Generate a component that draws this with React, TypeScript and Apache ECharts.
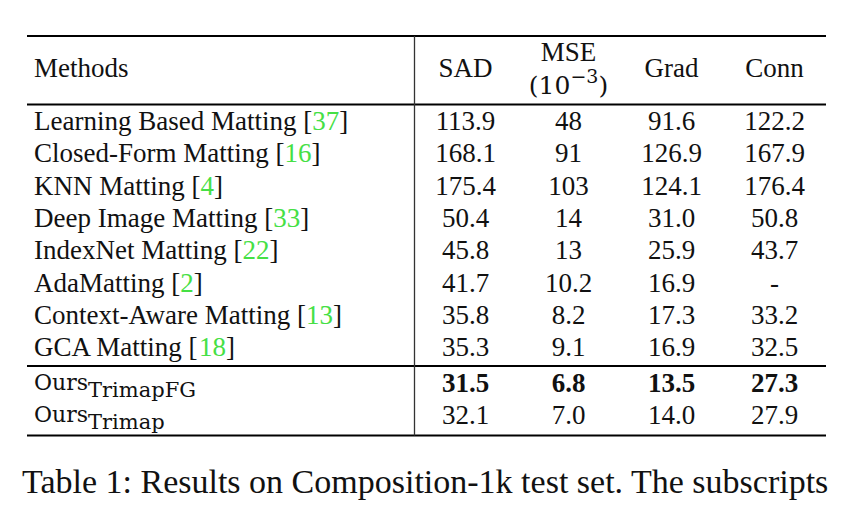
import React, { useEffect, useRef } from "react";
import * as echarts from "echarts";

const columns = ["SAD", "MSE", "Grad", "Conn"];
const headerMethods = "Methods";
const mseUnitBase = "(10";
const mseUnitSup = "−3";
const mseUnitEnd = ")";

const methods = [
  "Learning Based Matting",
  "Closed-Form Matting",
  "KNN Matting",
  "Deep Image Matting",
  "IndexNet Matting",
  "AdaMatting",
  "Context-Aware Matting",
  "GCA Matting",
];
const refs = ["37", "16", "4", "33", "22", "2", "13", "18"];
const sad = ["113.9", "168.1", "175.4", "50.4", "45.8", "41.7", "35.8", "35.3"];
const mse = ["48", "91", "103", "14", "13", "10.2", "8.2", "9.1"];
const grad = ["91.6", "126.9", "124.1", "31.0", "25.9", "16.9", "17.3", "16.9"];
const conn = ["122.2", "167.9", "176.4", "50.8", "43.7", "-", "33.2", "32.5"];

const oursBase = ["Ours", "Ours"];
const oursSub = ["TrimapFG", "Trimap"];
const oursSad = ["31.5", "32.1"];
const oursMse = ["6.8", "7.0"];
const oursGrad = ["13.5", "14.0"];
const oursConn = ["27.3", "27.9"];
const oursBold = [true, false];

const caption = "Table 1: Results on Composition-1k test set. The subscripts";

const SERIF = "'Liberation Serif', 'Times New Roman', serif";
const CM = "'DejaVu Serif', serif";
const GREEN = "#45e045";
const INK = "#111111";

function measure(text: string, font: string): number {
  const ctx = document.createElement("canvas").getContext("2d");
  if (!ctx) return text.length * 10;
  ctx.font = font;
  return ctx.measureText(text).width;
}

export default function App() {
  const ref = useRef<HTMLDivElement>(null);

  useEffect(() => {
    if (!ref.current) return;
    const chart = echarts.init(ref.current, null, { renderer: "svg" });

    const bodyCols = [sad, mse, grad, conn];
    const oursCols = [oursSad, oursMse, oursGrad, oursConn];
    const methodOffset = 380;
    const fs = 27;

    const gridBase = { left: 414, right: 26 };
    const grids = [
      { ...gridBase, top: 34, height: 68 },
      { ...gridBase, top: 105, height: 258.4 },
      { ...gridBase, top: 367, height: 64 },
    ];
    const xAxes = grids.map((_, g) => ({
      type: "category",
      gridIndex: g,
      data: columns,
      show: false,
    }));
    const yAxes = [
      { type: "category", gridIndex: 0, data: ["header"], show: false, inverse: true },
      { type: "category", gridIndex: 1, data: methods, show: false, inverse: true },
      { type: "category", gridIndex: 2, data: oursSub, show: false, inverse: true },
    ];

    const plain = (x: number, y: number, text: string, align: string, extra: any = {}) => ({
      type: "text",
      style: {
        x,
        y,
        text,
        align,
        verticalAlign: "middle",
        fill: INK,
        fontSize: fs,
        fontFamily: SERIF,
        ...extra,
      },
    });

    const headerSeries = {
      type: "custom",
      xAxisIndex: 0,
      yAxisIndex: 0,
      data: [[0, 0]],
      renderItem: (params: any, api: any) => {
        const cs = params.coordSys;
        const children: any[] = [];
        const yc = api.coord([0, 0])[1];
        children.push(plain(cs.x - methodOffset, yc, headerMethods, "left"));
        columns.forEach((col, c) => {
          const [x, y] = api.coord([c, 0]);
          if (c === 1) {
            children.push(plain(x, y - 16, col, "center"));
            const f1 = `25px ${CM}`;
            const f2 = `19px ${CM}`;
            const w1 = measure(mseUnitBase, f1);
            const w2 = measure(mseUnitSup, f2);
            const w3 = measure(mseUnitEnd, f1);
            const sx = x - (w1 + w2 + w3) / 2;
            const yy = y + 17;
            const big = { fontSize: 25, fontFamily: CM };
            children.push(plain(sx, yy, mseUnitBase, "left", big));
            children.push(plain(sx + w1, yy - 9, mseUnitSup, "left", { fontSize: 19, fontFamily: CM }));
            children.push(plain(sx + w1 + w2, yy, mseUnitEnd, "left", big));
          } else {
            children.push(plain(x, y, col, "center"));
          }
        });
        return { type: "group", children };
      },
    };

    const bodySeries = {
      type: "custom",
      xAxisIndex: 1,
      yAxisIndex: 1,
      data: methods.map((_, i) => [0, i]),
      renderItem: (params: any, api: any) => {
        const i = params.dataIndex;
        const cs = params.coordSys;
        const yc = api.coord([0, i])[1];
        const children: any[] = [
          {
            type: "text",
            style: {
              x: cs.x - methodOffset,
              y: yc,
              text: `{n|${methods[i]} [}{r|${refs[i]}}{n|]}`,
              align: "left",
              verticalAlign: "middle",
              rich: {
                n: { fill: INK, fontSize: fs, fontFamily: SERIF },
                r: { fill: GREEN, fontSize: fs, fontFamily: SERIF },
              },
            },
          },
        ];
        bodyCols.forEach((col, c) => {
          const [x, y] = api.coord([c, i]);
          children.push(plain(x, y, col[i], "center"));
        });
        return { type: "group", children };
      },
    };

    const oursSeries = {
      type: "custom",
      xAxisIndex: 2,
      yAxisIndex: 2,
      data: oursSub.map((_, i) => [0, i]),
      renderItem: (params: any, api: any) => {
        const i = params.dataIndex;
        const cs = params.coordSys;
        const yc = api.coord([0, i])[1];
        const baseFont = `22px ${CM}`;
        const wb = measure(oursBase[i], baseFont);
        const x0 = cs.x - methodOffset;
        const children: any[] = [
          plain(x0, yc - 1, oursBase[i], "left", { fontSize: 22, fontFamily: CM }),
          plain(x0 + wb, yc + 7, oursSub[i], "left", { fontSize: 21, fontFamily: CM }),
        ];
        oursCols.forEach((col, c) => {
          const [x, y] = api.coord([c, i]);
          children.push(
            plain(x, y, col[i], "center", oursBold[i] ? { fontWeight: "bold" } : {})
          );
        });
        return { type: "group", children };
      },
    };

    const ruleStyle = { stroke: "#000", lineWidth: 2.2 };
    const option: any = {
      animation: false,
      backgroundColor: "#ffffff",
      grid: grids,
      xAxis: xAxes,
      yAxis: yAxes,
      series: [headerSeries, bodySeries, oursSeries],
      graphic: [
        { type: "line", shape: { x1: 27, y1: 36, x2: 826, y2: 36 }, style: ruleStyle },
        { type: "line", shape: { x1: 27, y1: 104.5, x2: 826, y2: 104.5 }, style: ruleStyle },
        { type: "line", shape: { x1: 27, y1: 366, x2: 826, y2: 366 }, style: ruleStyle },
        { type: "line", shape: { x1: 27, y1: 435.5, x2: 826, y2: 435.5 }, style: ruleStyle },
        {
          type: "line",
          shape: { x1: 414.5, y1: 36, x2: 414.5, y2: 435.5 },
          style: { stroke: "#333", lineWidth: 1.3 },
        },
        {
          type: "text",
          style: {
            x: 22,
            y: 481.5,
            text: caption,
            align: "left",
            verticalAlign: "middle",
            fill: INK,
            fontSize: 34,
            fontFamily: SERIF,
          },
        },
      ],
    };
    chart.setOption(option);
    return () => chart.dispose();
  }, []);

  return (
    <div
      ref={ref}
      style={{ position: "fixed", left: 0, top: 0, width: 852, height: 510, background: "#fff" }}
    />
  );
}
